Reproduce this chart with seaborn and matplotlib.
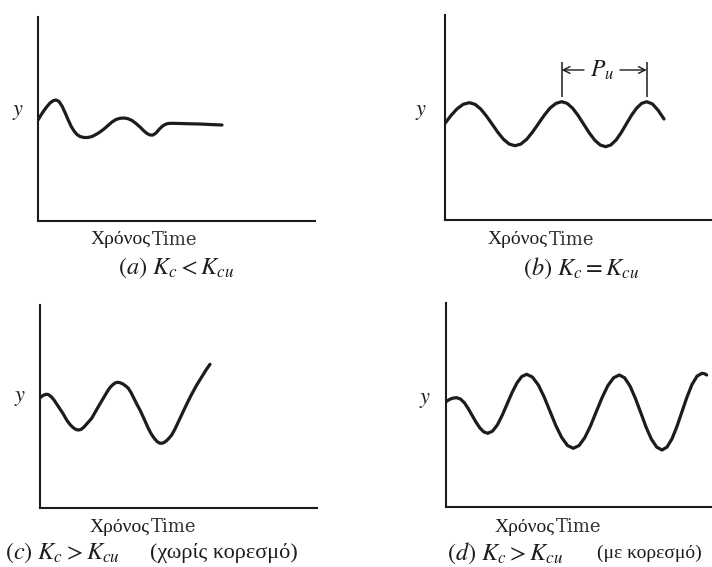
import matplotlib
matplotlib.use("Agg")
import matplotlib.pyplot as plt
import seaborn as sns
import pandas as pd

# ---- closed-loop responses (time, output) -------------------------------
# (a) Kc < Kcu : damped oscillation settling to a steady value
t_a = [0, .3, .6, .9, 1.2, 1.5, 1.8, 2.1, 2.4, 2.7, 3.0, 3.3, 3.6, 3.9, 4.2,
       4.6, 5.0, 5.4, 5.8, 6.2, 6.6, 7.0, 7.4, 7.8, 8.2, 8.6, 9.0, 9.4, 9.8,
       10.2, 10.6, 10.9, 11.2, 11.5, 11.8, 12.1, 12.4, 12.7, 13.0, 13.4,
       14.2, 15.2, 16.2, 17.2, 18.4]
y_a = [10.1, 10.6, 11.05, 11.45, 11.8, 12.02, 12.1, 11.95, 11.5, 10.85, 10.15,
       9.5, 9.0, 8.65, 8.45, 8.35, 8.35, 8.45, 8.65, 8.9, 9.2, 9.55, 9.9, 10.15,
       10.27, 10.3, 10.23, 10.05, 9.75, 9.4, 9.0, 8.75, 8.6, 8.6, 8.8, 9.15,
       9.45, 9.65, 9.75, 9.77, 9.75, 9.72, 9.7, 9.65, 9.6]

# (b) Kc = Kcu : sustained oscillation with ultimate period Pu
t_b = [0, .61, 1.22, 1.82, 2.43, 3.0, 3.57, 4.14, 4.72, 5.29, 5.86, 6.43, 7.0,
       7.58, 8.17, 8.75, 9.34, 9.92, 10.5, 11.09, 11.67, 12.22, 12.77, 13.32,
       13.87, 14.42, 14.97, 15.52, 16.07, 16.58, 17.1, 17.61, 18.12, 18.63,
       19.15, 19.66, 20.17, 20.75, 21.33, 21.9]
y_b = [9.67, 10.46, 11.13, 11.57, 11.73, 11.57, 11.10, 10.40, 9.58, 8.76, 8.06,
       7.59, 7.43, 7.59, 8.07, 8.79, 9.63, 10.47, 11.19, 11.66, 11.83, 11.66,
       11.17, 10.44, 9.58, 8.72, 7.99, 7.50, 7.33, 7.50, 7.99, 8.72, 9.58,
       10.44, 11.17, 11.66, 11.83, 11.60, 10.95, 10.10]
pu_peaks = [11.67, 20.17]

# (c) Kc > Kcu, no saturation : growing oscillation
t_c = [0, .3, .6, .8, 1.1, 1.4, 1.7, 2.0, 2.3, 2.67, 3.0, 3.3, 3.6, 3.83, 4.1,
       4.4, 4.8, 5.17, 5.5, 5.9, 6.33, 6.7, 7.0, 7.3, 7.55, 7.73, 8.0, 8.3,
       8.6, 8.83, 9.1, 9.4, 9.7, 10.0, 10.3, 10.6, 10.83, 11.1, 11.4, 11.7,
       12.0, 12.3, 12.6, 12.9, 13.17, 13.5, 13.9, 14.33, 14.7, 15.1, 15.67,
       16.2, 16.6, 17.0]
y_c = [11.03, 11.25, 11.37, 11.36, 11.15, 10.8, 10.35, 9.9, 9.45, 8.8, 8.35,
       8.05, 7.85, 7.8, 7.85, 8.1, 8.55, 8.97, 9.55, 10.25, 10.97, 11.6, 12.05,
       12.35, 12.52, 12.57, 12.53, 12.4, 12.18, 11.97, 11.55, 10.95, 10.35,
       9.8, 9.15, 8.48, 7.97, 7.45, 7.0, 6.65, 6.47, 6.5, 6.68, 6.98, 7.3, 7.9,
       8.75, 9.67, 10.45, 11.25, 12.3, 13.15, 13.8, 14.37]

# (d) Kc > Kcu, with saturation : bounded oscillation
t_d = [0, .35, .7, 1.07, 1.46, 1.85, 2.23, 2.62, 3.01, 3.4, 3.78, 4.17, 4.66,
       5.15, 5.63, 6.12, 6.61, 7.1, 7.58, 8.07, 8.65, 9.24, 9.82, 10.4, 10.98,
       11.57, 12.15, 12.73, 13.31, 13.88, 14.46, 15.03, 15.61, 16.18, 16.76,
       17.33, 17.86, 18.4, 18.93, 19.47, 20.0, 20.53, 21.07, 21.6, 22.1, 22.6,
       23.1, 23.6, 24.1, 24.6, 25.1, 25.6, 25.85, 26.07]
y_d = [10.53, 10.76, 10.89, 10.93, 10.79, 10.41, 9.83, 9.15, 8.47, 7.89, 7.51,
       7.37, 7.59, 8.23, 9.19, 10.32, 11.45, 12.41, 13.05, 13.27, 12.99, 12.19,
       10.99, 9.57, 8.15, 6.95, 6.15, 5.87, 6.15, 6.94, 8.13, 9.54, 10.94,
       12.13, 12.92, 13.2, 12.92, 12.1, 10.89, 9.45, 8.01, 6.8, 5.99, 5.7,
       5.99, 6.82, 8.07, 9.54, 11.0, 12.25, 13.08, 13.37, 13.33, 13.2]

# captions
x_label_gr = "Χρόνος"
x_label_en = "Time"
captions = [r"$(a)\ K_c < K_{cu}$", r"$(b)\ K_c = K_{cu}$",
            r"$(c)\ K_c > K_{cu}$", r"$(d)\ K_c > K_{cu}$"]
notes = ["", "", "(χωρίς κορεσμό)", "(με κορεσμό)"]

# ---- style --------------------------------------------------------------
sns.set_theme(style="white")
plt.rcParams["font.family"] = ["Liberation Serif", "DejaVu Serif"]
plt.rcParams["mathtext.fontset"] = "stix"

W, H = 712, 567
fig = plt.figure(figsize=(W / 100, H / 100), dpi=100)
fig.patch.set_facecolor("white")


def fx(x):
    return x / W


def fy(y):
    return 1 - y / H


INK = "#1c1c1c"

# axes frames: (left, top, right, bottom) in pixels, and data extents
frames = [
    ((38, 17, 315, 221), 27.7, 20.4),
    ((445, 15, 712, 220), 26.7, 20.5),
    ((40, 305, 317, 508), 27.7, 20.3),
    ((446, 303, 712, 507), 26.6, 20.4),
]
series = [(t_a, y_a), (t_b, y_b), (t_c, y_c), (t_d, y_d)]

axes = []
for (box, xmax, ymax), (t, y) in zip(frames, series):
    l, tp, r, b = box
    ax = fig.add_axes([fx(l), fy(b), fx(r - l), (b - tp) / H])
    df = pd.DataFrame({"time": t, "y": y})
    sns.lineplot(data=df, x="time", y="y", ax=ax, color=INK, lw=2.3,
                 sort=False, estimator=None)
    ax.set_xlim(0, xmax)
    ax.set_ylim(0, ymax)
    ax.set_xticks([])
    ax.set_yticks([])
    ax.set_xlabel("")
    ax.set_ylabel("")
    ax.set_facecolor("none")
    sns.despine(ax=ax)
    for s in ("left", "bottom"):
        ax.spines[s].set_color(INK)
        ax.spines[s].set_linewidth(1.5)
    axes.append(ax)

# ultimate period bracket on (b)
axb = axes[1]
axb.vlines(pu_peaks, 12.33, 15.83, color=INK, lw=1.1)
axb.annotate("", xy=(pu_peaks[0], 15.0), xytext=(13.9, 15.0),
             arrowprops=dict(arrowstyle="->", color=INK, lw=1.0,
                             shrinkA=0, shrinkB=0))
axb.annotate("", xy=(pu_peaks[1], 15.0), xytext=(17.5, 15.0),
             arrowprops=dict(arrowstyle="->", color=INK, lw=1.0,
                             shrinkA=0, shrinkB=0))
axb.text((pu_peaks[0] + pu_peaks[1]) / 2 - 0.2, 15.0, r"$P_u$", fontsize=17,
         ha="center", va="center", color=INK)

# y labels
for (x, y) in [(18, 112), (421, 113), (20, 399), (425, 400)]:
    fig.text(fx(x), fy(y), r"$y$", fontsize=16, ha="center", va="center",
             color=INK)

# time labels (Greek + English)
for (xe, y) in [(151, 240), (548, 240), (150, 527), (555, 527)]:
    fig.text(fx(xe), fy(y), x_label_gr, fontsize=14, ha="right",
             va="center", color=INK)
    fig.text(fx(xe + 1), fy(y), x_label_en, fontsize=13, ha="left",
             va="center", color="#333333", family="DejaVu Serif")

# panel captions
cap_pos = [(118, 268), (523, 268), (5, 553), (447, 553)]
note_pos = [None, None, (150, 553), (597, 553)]
note_size = [0, 0, 16, 14]
for cap, (x, y), note, npos, ns in zip(captions, cap_pos, notes, note_pos,
                                       note_size):
    fig.text(fx(x), fy(y), cap, fontsize=17.5, ha="left", va="center",
             color=INK)
    if note:
        fig.text(fx(npos[0]), fy(npos[1]), note, fontsize=ns, ha="left",
                 va="center", color=INK)

fig.savefig("out.png", dpi=100, facecolor="white")
